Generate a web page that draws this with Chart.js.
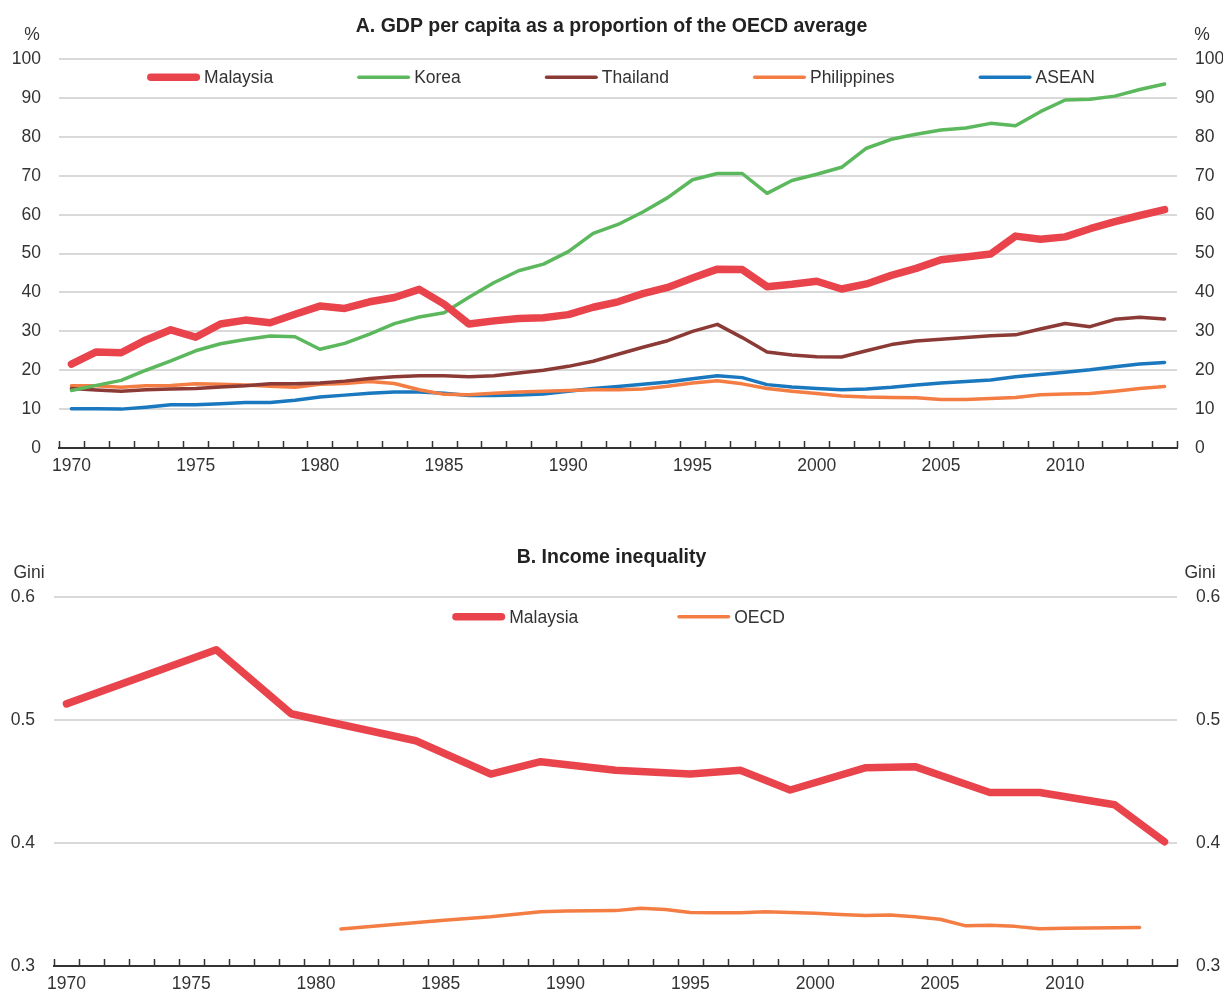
<!DOCTYPE html>
<html>
<head>
<meta charset="utf-8">
<script src="https://cdn.jsdelivr.net/npm/chart.js@4.4.1/dist/chart.umd.min.js"></script>
<style>
  body { margin: 0; background: #fff; overflow: hidden; }
  .panel { position: absolute; left: 0; width: 1223px; }
  #panelA { top: 0; height: 490px; }
  #panelB { top: 520px; height: 479px; }
</style>
</head>
<body>
<div class="panel" id="panelA"><canvas id="gdpChart"></canvas></div>
<div class="panel" id="panelB"><canvas id="giniChart"></canvas></div>
<script>
// years 1970-2014
const years = [];
for (let y = 1970; y <= 2014; y++) years.push(String(y));

// Panel A: GDP per capita, % of OECD average
const malaysiaGdp = [21.6, 24.7, 24.5, 27.8, 30.4, 28.5, 31.9, 32.9, 32.2, 34.4, 36.5, 35.9, 37.6, 38.7, 40.8, 37.0,
  31.9, 32.7, 33.3, 33.5, 34.3, 36.2, 37.6, 39.7, 41.3, 43.7, 46.0, 45.9, 41.5, 42.1, 42.9, 40.9,
  42.2, 44.4, 46.2, 48.4, 49.1, 49.9, 54.5, 53.7, 54.3, 56.4, 58.2, 59.8, 61.3];
const koreaGdp = [14.8, 16.1, 17.4, 20.0, 22.4, 25.0, 26.8, 27.9, 28.8, 28.6, 25.4, 26.9, 29.3, 32.0, 33.7, 34.8,
  38.8, 42.5, 45.6, 47.3, 50.5, 55.2, 57.5, 60.7, 64.4, 69.0, 70.6, 70.6, 65.5, 68.8, 70.4, 72.2,
  77.1, 79.4, 80.7, 81.8, 82.3, 83.5, 82.9, 86.5, 89.5, 89.7, 90.5, 92.2, 93.6];
const thailandGdp = [15.3, 14.9, 14.6, 15.0, 15.2, 15.3, 15.7, 16.0, 16.5, 16.5, 16.7, 17.2, 17.9, 18.3, 18.6, 18.6,
  18.3, 18.6, 19.3, 20.0, 21.0, 22.3, 24.1, 25.9, 27.6, 30.0, 31.8, 28.4, 24.7, 23.9, 23.5, 23.4,
  25.0, 26.6, 27.5, 28.0, 28.4, 28.9, 29.1, 30.6, 32.0, 31.2, 33.1, 33.6, 33.2];
const philippinesGdp = [16.0, 16.0, 15.6, 16.0, 16.1, 16.5, 16.4, 16.2, 15.9, 15.6, 16.4, 16.6, 17.1, 16.6, 15.0, 13.8,
  13.7, 14.1, 14.4, 14.6, 14.8, 15.0, 15.0, 15.2, 15.9, 16.7, 17.3, 16.5, 15.3, 14.6, 14.0, 13.4,
  13.1, 13.0, 12.9, 12.5, 12.5, 12.7, 13.0, 13.7, 13.9, 14.0, 14.6, 15.3, 15.8];
const aseanGdp = [10.1, 10.1, 10.0, 10.5, 11.1, 11.1, 11.4, 11.7, 11.7, 12.3, 13.1, 13.6, 14.1, 14.4, 14.4, 14.1,
  13.5, 13.5, 13.6, 13.9, 14.6, 15.3, 15.8, 16.4, 17.0, 17.8, 18.6, 18.1, 16.3, 15.7, 15.3, 15.0,
  15.2, 15.6, 16.2, 16.7, 17.1, 17.5, 18.3, 18.9, 19.5, 20.1, 20.9, 21.6, 22.0];
const gdpTicks = [0, 10, 20, 30, 40, 50, 60, 70, 80, 90, 100];

// Panel B: Gini coefficient, only the years with an observation
const giniYears = [1970, 1976, 1979, 1984, 1987, 1989, 1992, 1995, 1997, 1999, 2002, 2004, 2007, 2009, 2012, 2014];
const giniValues = [0.513, 0.557, 0.505, 0.483, 0.456, 0.466, 0.459, 0.456, 0.459, 0.443, 0.461, 0.462, 0.441, 0.441, 0.431, 0.401];
const oecdYears = [1981, 1985, 1987, 1989, 1990, 1991, 1992, 1993, 1994, 1995, 1996, 1997, 1998, 1999, 2000,
  2001, 2002, 2003, 2004, 2005, 2006, 2007, 2008, 2009, 2010, 2011, 2012, 2013];
const oecdValues = [0.330, 0.337, 0.340, 0.344, 0.3446, 0.3448, 0.345, 0.347, 0.346, 0.3435, 0.3433, 0.3433, 0.344, 0.3435, 0.3428,
  0.3418, 0.3410, 0.3414, 0.340, 0.338, 0.3328, 0.3332, 0.3322, 0.3302, 0.3306, 0.3308, 0.331, 0.3313];
const giniTicks = [0.3, 0.4, 0.5, 0.6];

const FONT = '"Liberation Sans", Arial, Helvetica, sans-serif';
const FSIZE = 17.5;
const TEXT = '#333333';
const GRID = '#d9d9d9';

const RED = '#e9434b', GREEN = '#5cb85c', BROWN = '#8c3a36', ORANGE = '#f47d44', BLUE = '#1a78bf';

function onYears(xs, vs) {
  return years.map(y => {
    const i = xs.indexOf(Number(y));
    return i >= 0 ? vs[i] : null;
  });
}

// inward tick marks on the x axis, unit labels above the y axes
const axisDecor = {
  id: 'axisDecor',
  afterDraw(chart, args, opts) {
    const ctx = chart.ctx;
    const x = chart.scales.x;
    const area = chart.chartArea;
    const n = x.ticks.length;
    const step = (x.right - x.left) / n;
    ctx.save();
    ctx.strokeStyle = TEXT;
    ctx.lineWidth = 1.5;
    ctx.beginPath();
    for (let i = 0; i <= n; i++) {
      const px = Math.round(x.left + i * step) + 0.5;
      ctx.moveTo(px, area.bottom);
      ctx.lineTo(px, area.bottom - 7);
    }
    ctx.stroke();
    ctx.fillStyle = TEXT;
    ctx.font = FSIZE + 'px ' + FONT;
    ctx.textAlign = 'center';
    ctx.textBaseline = 'middle';
    ctx.fillText(opts.unit, area.left - opts.leftOff, area.top - 24);
    ctx.fillText(opts.unit, area.right + opts.rightOff, area.top - 24);
    ctx.restore();
  }
};

// one-row legend inside the top of the plot area
const inlineLegend = {
  id: 'inlineLegend',
  afterDatasetsDraw(chart, args, opts) {
    const ctx = chart.ctx;
    const area = chart.chartArea;
    ctx.save();
    ctx.font = FSIZE + 'px ' + FONT;
    const sets = chart.data.datasets;
    const widths = sets.map(ds => opts.sample + opts.textGap + ctx.measureText(ds.label).width);
    const total = widths.reduce((a, b) => a + b, 0) + opts.gap * (sets.length - 1);
    let x = (area.left + area.right) / 2 - total / 2 + (opts.shift || 0);
    const y = area.top + opts.top;
    sets.forEach((ds, i) => {
      const lw = ds.borderWidth;
      ctx.strokeStyle = ds.borderColor;
      ctx.lineWidth = lw;
      ctx.lineCap = 'round';
      ctx.beginPath();
      ctx.moveTo(x + lw / 2, y);
      ctx.lineTo(x + opts.sample - lw / 2, y);
      ctx.stroke();
      ctx.fillStyle = TEXT;
      ctx.textAlign = 'left';
      ctx.textBaseline = 'middle';
      ctx.fillText(ds.label, x + opts.sample + opts.textGap, y + 1);
      x += widths[i] + opts.gap;
    });
    ctx.restore();
  }
};

function lineSet(label, data, color, width) {
  return {
    label: label,
    data: data,
    borderColor: color,
    backgroundColor: color,
    borderWidth: width,
    borderCapStyle: 'round',
    borderJoinStyle: 'round',
    pointRadius: 0,
    tension: 0,
    spanGaps: true
  };
}

function makeOptions(cfg) {
  const yTicks = {
    color: TEXT,
    font: { family: FONT, size: FSIZE },
    padding: cfg.tickPad
  };
  return {
    responsive: true,
    maintainAspectRatio: false,
    animation: false,
    layout: { padding: 0 },
    plugins: {
      title: {
        display: true,
        text: cfg.title,
        color: '#222',
        font: { family: FONT, size: 19.5, weight: 'bold' },
        padding: { top: cfg.titleTop, bottom: cfg.titleBottom }
      },
      legend: { display: false },
      tooltip: { enabled: false },
      axisDecor: { unit: cfg.unit, leftOff: cfg.unitLeft, rightOff: cfg.unitRight },
      inlineLegend: cfg.legend
    },
    scales: {
      x: {
        type: 'category',
        offset: true,
        grid: { display: true, drawOnChartArea: false, drawTicks: false, offset: true, color: 'transparent' },
        border: { display: true, color: TEXT, width: 2 },
        ticks: {
          autoSkip: false,
          maxRotation: 0,
          color: TEXT,
          font: { family: FONT, size: FSIZE },
          padding: cfg.xPad,
          callback: function (v, i) {
            return Number(years[i]) % 5 === 0 ? years[i] : '';
          }
        },
        afterFit: s => { s.height = cfg.xHeight; }
      },
      y: {
        position: 'left',
        min: cfg.min,
        max: cfg.max,
        afterBuildTicks: s => { s.ticks = cfg.ticks.map(v => ({ value: v })); },
        grid: { color: GRID, lineWidth: 2, drawTicks: false },
        border: { display: false },
        ticks: Object.assign({}, yTicks, { callback: v => cfg.fmt(v) }),
        afterFit: s => { s.width = cfg.leftWidth; }
      },
      y2: {
        position: 'right',
        min: cfg.min,
        max: cfg.max,
        afterBuildTicks: s => { s.ticks = cfg.ticks.map(v => ({ value: v })); },
        grid: { display: false, drawTicks: false },
        border: { display: false },
        ticks: Object.assign({}, yTicks, { callback: v => cfg.fmt(v) }),
        afterFit: s => { s.width = 46; }
      }
    }
  };
}

new Chart(document.getElementById('gdpChart'), {
  type: 'line',
  data: {
    labels: years,
    datasets: [
      lineSet('Malaysia', malaysiaGdp, RED, 7.5),
      lineSet('Korea', koreaGdp, GREEN, 3.5),
      lineSet('Thailand', thailandGdp, BROWN, 3.5),
      lineSet('Philippines', philippinesGdp, ORANGE, 3.5),
      lineSet('ASEAN', aseanGdp, BLUE, 3.5)
    ]
  },
  options: makeOptions({
    title: 'A. GDP per capita as a proportion of the OECD average',
    titleTop: 15, titleBottom: 20.8,
    unit: '%', unitLeft: 27, unitRight: 25,
    min: 0, max: 100, ticks: gdpTicks, fmt: v => String(v),
    leftWidth: 59, tickPad: 18, xHeight: 42, xPad: 8,
    legend: { sample: 53, textGap: 4, gap: 84, top: 18, shift: 3 }
  }),
  plugins: [axisDecor, inlineLegend]
});

new Chart(document.getElementById('giniChart'), {
  type: 'line',
  data: {
    labels: years,
    datasets: [
      lineSet('Malaysia', onYears(giniYears, giniValues), RED, 7.5),
      lineSet('OECD', onYears(oecdYears, oecdValues), ORANGE, 3.5)
    ]
  },
  options: makeOptions({
    title: 'B. Income inequality',
    titleTop: 26, titleBottom: 27.4,
    unit: 'Gini', unitLeft: 25, unitRight: 23,
    min: 0.3, max: 0.6, ticks: giniTicks, fmt: v => v.toFixed(1),
    leftWidth: 54, tickPad: 19, xHeight: 33, xPad: 8,
    legend: { sample: 53, textGap: 4, gap: 99, top: 20, shift: 3 }
  }),
  plugins: [axisDecor, inlineLegend]
});
</script>
</body>
</html>
